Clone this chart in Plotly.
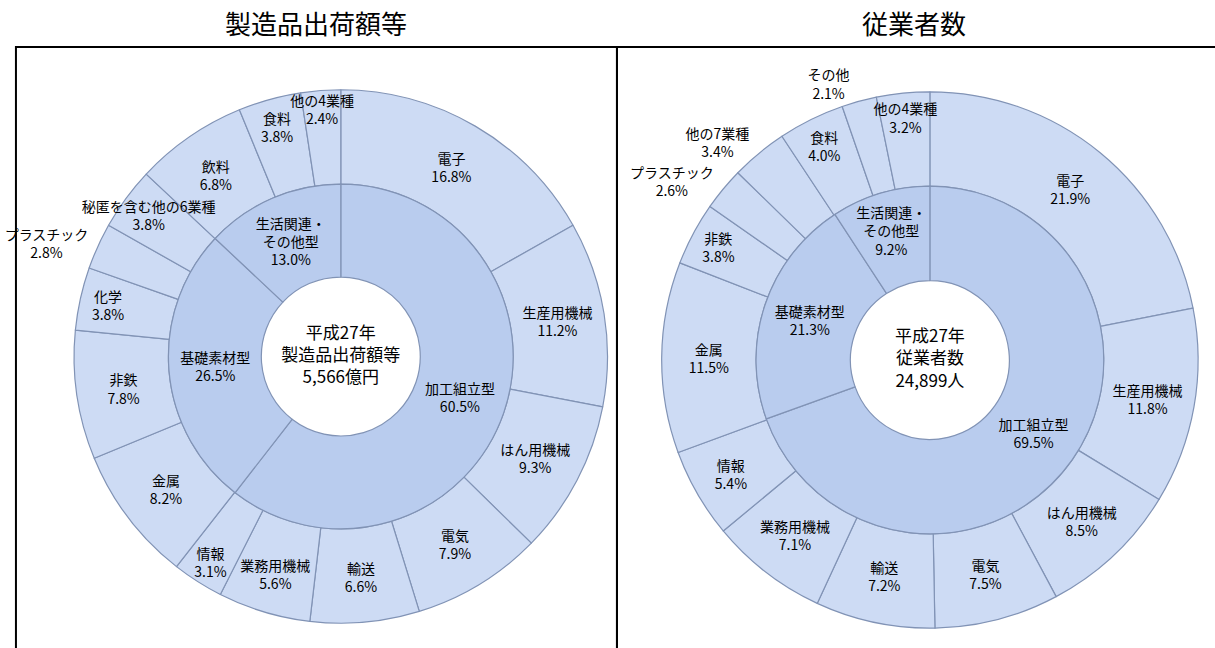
import plotly.graph_objects as go

# ---------------- data ----------------
panel_titles = ["製造品出荷額等", "従業者数"]
center_texts = ["平成27年<br>製造品出荷額等<br>5,566億円", "平成27年<br>従業者数<br>24,899人"]

inner_labels = ["加工組立型", "基礎素材型", "生活関連・<br>その他型"]
inner_values_shipments = [60.5, 26.5, 13.0]
inner_values_workers = [69.5, 21.3, 9.2]

outer_labels_shipments = ["電子", "生産用機械", "はん用機械", "電気", "輸送", "業務用機械", "情報",
                          "金属", "非鉄", "化学", "プラスチック", "秘匿を含む他の6業種",
                          "飲料", "食料", "他の4業種"]
outer_values_shipments = [16.8, 11.2, 9.3, 7.9, 6.6, 5.6, 3.1,
                          8.2, 7.8, 3.8, 2.8, 3.8,
                          6.8, 3.8, 2.4]
outside_shipments = ["プラスチック"]

outer_labels_workers = ["電子", "生産用機械", "はん用機械", "電気", "輸送", "業務用機械", "情報",
                        "金属", "非鉄", "プラスチック", "他の7業種",
                        "食料", "その他", "他の4業種"]
outer_values_workers = [21.9, 11.8, 8.5, 7.5, 7.2, 7.1, 5.4,
                        11.5, 3.8, 2.6, 3.4,
                        4.0, 2.1, 3.2]
outside_workers = ["プラスチック", "他の7業種", "その他"]

# ---------------- geometry / style ----------------
W, H = 1215, 648
FONT = "Noto Sans CJK JP, Noto Sans CJK SC, sans-serif"
OUTER_COLOR = "#cddbf4"
INNER_COLOR = "#b9ccee"
EDGE = "#8193b5"

panels = [
    dict(cx=335, cy=356.5, r_out=268.5, r_mid=173.5, r_hole=80,
         inner=inner_values_shipments, outer_l=outer_labels_shipments,
         outer_v=outer_values_shipments, outside=outside_shipments),
    dict(cx=928, cy=360, r_out=270, r_mid=175, r_hole=80,
         inner=inner_values_workers, outer_l=outer_labels_workers,
         outer_v=outer_values_workers, outside=outside_workers),
]


def domain(cx, cy, r):
    return dict(x=[(cx - r) / W, (cx + r) / W],
                y=[(H - cy - r) / H, (H - cy + r) / H])


fig = go.Figure()
for i, p in enumerate(panels):
    dom_out = domain(p["cx"], p["cy"], p["r_out"])
    hole_out = p["r_mid"] / p["r_out"]
    # outer ring (fills only)
    fig.add_trace(go.Pie(
        labels=p["outer_l"], values=p["outer_v"],
        domain=dom_out, hole=hole_out,
        sort=False, direction="clockwise", rotation=0,
        marker=dict(colors=[OUTER_COLOR] * len(p["outer_l"]), line=dict(color=EDGE, width=1.2)),
        textinfo="none",
        showlegend=False, hoverinfo="label+value",
    ))
    # inner ring
    fig.add_trace(go.Pie(
        labels=inner_labels, values=p["inner"],
        domain=domain(p["cx"], p["cy"], p["r_mid"]),
        hole=p["r_hole"] / p["r_mid"],
        sort=False, direction="clockwise", rotation=0,
        marker=dict(colors=[INNER_COLOR] * 3, line=dict(color=EDGE, width=1.2)),
        texttemplate="%{label}<br>%{value:.1f}%",
        textposition="inside",
        insidetextorientation="horizontal",
        textfont=dict(family=FONT, size=14, color="black"),
        title=dict(text=center_texts[i], position="middle center",
                   font=dict(family=FONT, size=17, color="black")),
        showlegend=False, hoverinfo="label+value",
    ))
    # outer ring labels drawn on top of all slices (transparent copy of the ring)
    fig.add_trace(go.Pie(
        labels=p["outer_l"], values=p["outer_v"],
        domain=dom_out, hole=hole_out,
        sort=False, direction="clockwise", rotation=0,
        marker=dict(colors=["rgba(0,0,0,0)"] * len(p["outer_l"]), line=dict(width=0)),
        texttemplate="%{label}<br>%{value:.1f}%",
        textposition=["outside" if l in p["outside"] else "inside" for l in p["outer_l"]],
        insidetextorientation="horizontal",
        textfont=dict(family=FONT, size=14, color="black"),
        showlegend=False, hoverinfo="skip",
    ))

# panel frames
frame_x = [(8, 613), (613, 1217)]
for x0, x1 in frame_x:
    fig.add_shape(type="rect", xref="paper", yref="paper",
                  x0=x0 / W, x1=x1 / W, y0=-0.05, y1=(H - 47) / H,
                  line=dict(color="black", width=2), fillcolor="rgba(0,0,0,0)")

# panel titles
for title, xc in zip(panel_titles, [310, 912]):
    fig.add_annotation(text=title, xref="paper", yref="paper",
                       x=xc / W, y=(H - 22) / H, xanchor="center", yanchor="middle",
                       showarrow=False, font=dict(family=FONT, size=26, color="black"))

fig.update_layout(
    width=W, height=H, margin=dict(l=0, r=0, t=0, b=0),
    paper_bgcolor="white", plot_bgcolor="white",
    uniformtext=dict(mode="show", minsize=14),
    font=dict(family=FONT),
)

fig.write_html("out.html")
